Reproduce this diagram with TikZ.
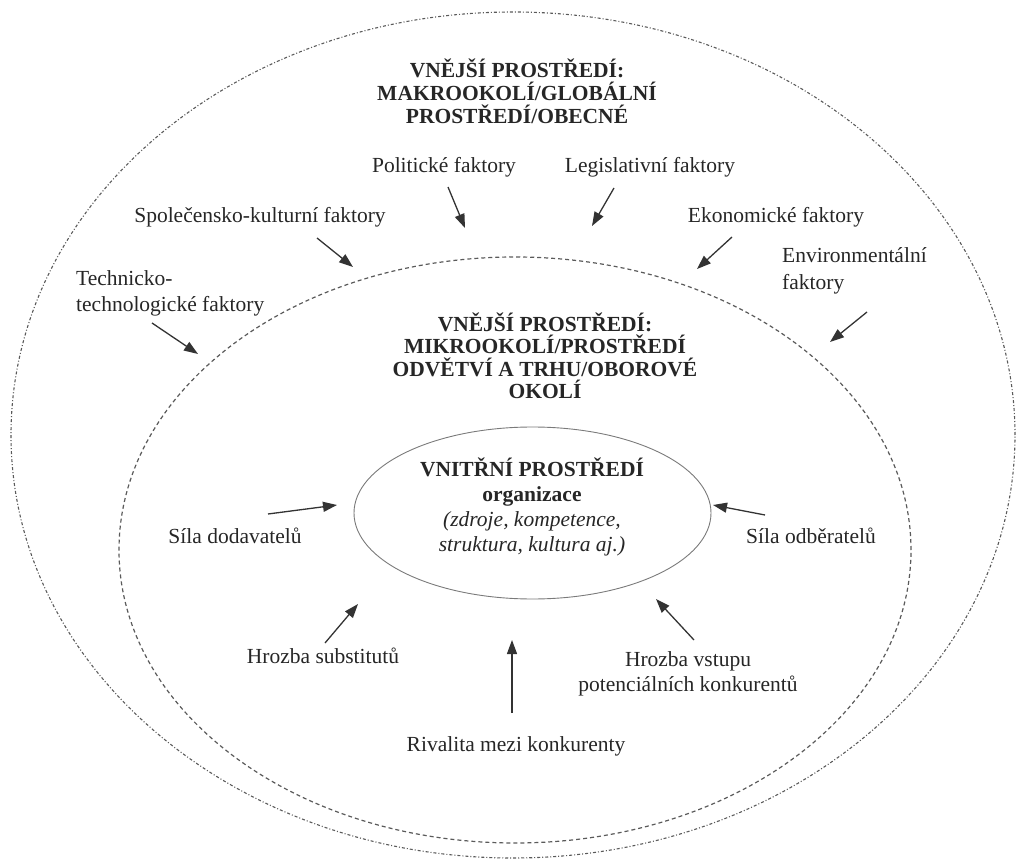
\documentclass[tikz,border=0pt]{standalone}
\usepackage{fontspec}
\setmainfont{Liberation Serif}
\usetikzlibrary{arrows.meta,shapes.geometric}
\definecolor{txt}{HTML}{262626}
\definecolor{arr}{HTML}{333333}
\definecolor{ring}{HTML}{5A5A5A}
\definecolor{core}{HTML}{7A7A7A}
\tikzset{
  lbl/.style={text=txt, inner sep=0pt, font=\fontsize{21.5}{24.5}\selectfont},
  ttl/.style={text=txt, inner sep=0pt, align=center, font=\fontsize{21.5}{23}\selectfont\bfseries},
  force/.style={draw=arr, line width=1.3pt, -{Triangle[length=14pt,width=10pt]}},
  outerring/.style={draw=ring, line width=1.1pt, dash pattern=on 3pt off 2pt on 1pt off 2pt},
  midring/.style={draw=ring, line width=1.2pt, dash pattern=on 4pt off 3pt},
}
\begin{document}
\begin{tikzpicture}[x=1pt,y=-1pt]
\useasboundingbox (0,0) rectangle (1018,861);
% rings
\draw[outerring] (513,435) ellipse [x radius=502pt, y radius=423pt];
\draw[midring] (515,550) ellipse [x radius=396pt, y radius=293pt];
\node[draw=core, line width=0.9pt, ellipse, minimum width=357pt, minimum height=172pt, inner sep=0pt] (core) at (532.5,513) {};
% titles
\node[ttl] (macro) at (517,91) {VNĚJŠÍ PROSTŘEDÍ:\\MAKROOKOLÍ/GLOBÁLNÍ\\PROSTŘEDÍ/OBECNÉ};
\node[ttl, font=\fontsize{21.5}{22.5}\selectfont\bfseries] (micro) at (545,356) {VNĚJŠÍ PROSTŘEDÍ:\\MIKROOKOLÍ/PROSTŘEDÍ\\ODVĚTVÍ A TRHU/OBOROVÉ\\OKOLÍ};
\node[lbl, align=center, font=\fontsize{21.5}{25}\selectfont] (inner) at (532,507) {\textbf{VNITŘNÍ PROSTŘEDÍ}\\\textbf{organizace}\\\textit{(zdroje, kompetence,}\\\textit{struktura, kultura aj.)}};
% macro factors
\node[lbl] (pol) at (444,167) {Politické faktory};
\node[lbl] (leg) at (650,167) {Legislativní faktory};
\node[lbl] (spol) at (260,217) {Společensko-kulturní faktory};
\node[lbl] (eko) at (776,217) {Ekonomické faktory};
\node[lbl, align=left, anchor=west, font=\fontsize{21.5}{26}\selectfont] (tech) at (76,293) {Technicko-\\technologické faktory};
\node[lbl, align=left, anchor=west, font=\fontsize{21.5}{27}\selectfont] (env) at (782,271) {Environmentální\\faktory};
% micro forces
\node[lbl] (dod) at (235,536) {Síla dodavatelů};
\node[lbl] (odb) at (811,536) {Síla odběratelů};
\node[lbl] (sub) at (323,656) {Hrozba substitutů};
\node[lbl, align=center, font=\fontsize{21.5}{25}\selectfont] (vst) at (688,674) {Hrozba vstupu\\potenciálních konkurentů};
\node[lbl] (riv) at (516,746) {Rivalita mezi konkurenty};
% arrow end points
\coordinate (polA) at (448,187);  \coordinate (polB) at (465,228);
\coordinate (legA) at (614,188);  \coordinate (legB) at (592,226);
\coordinate (spolA) at (317,238); \coordinate (spolB) at (353,267);
\coordinate (ekoA) at (732,237);  \coordinate (ekoB) at (697,269);
\coordinate (techA) at (152,323); \coordinate (techB) at (198,354);
\coordinate (envA) at (867,312);  \coordinate (envB) at (830,342);
\coordinate (dodA) at (268,514);  \coordinate (dodB) at (337,505);
\coordinate (odbA) at (765,515);  \coordinate (odbB) at (713,505);
\coordinate (subA) at (325,643);  \coordinate (subB) at (358,604);
\coordinate (vstA) at (694,640);  \coordinate (vstB) at (656,599);
\coordinate (rivA) at (512,713);  \coordinate (rivB) at (512,640);
\draw[force] (polA) -- (polB);
\draw[force] (legA) -- (legB);
\draw[force] (spolA) -- (spolB);
\draw[force] (ekoA) -- (ekoB);
\draw[force] (techA) -- (techB);
\draw[force] (envA) -- (envB);
\draw[force] (dodA) -- (dodB);
\draw[force] (odbA) -- (odbB);
\draw[force] (subA) -- (subB);
\draw[force] (vstA) -- (vstB);
\draw[force] (rivA) -- (rivB);
\end{tikzpicture}
\end{document}
